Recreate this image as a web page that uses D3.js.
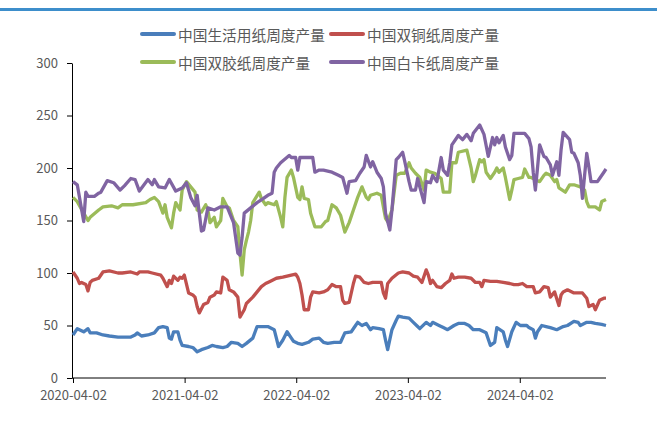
<!DOCTYPE html>
<html>
<head>
<meta charset="utf-8">
<script src="https://cdn.jsdelivr.net/npm/d3@7"></script>
<style>
  body { margin: 0; background: #fff; }
  text { font-family: "Noto Sans CJK SC", "Liberation Sans", sans-serif; fill: #595959; }
</style>
</head>
<body>
<div id="container"></div>
<script>
// weekly series, stored as [weeks since 2020-04-02, value]
const startDate = "2020-04-02";
const lastWeek = 249;

const tissue = [[0,41],[2,47],[3,46],[5,44],[7,47],[8,43],[11,43],[14,41],[17,40],[21,39],[23,39],[27,39],[29,41],[30,43],[32,40],[35,41],[38,43],[40,48],[42,49],[44,48],[45,38],[46,37],[47,44],[49,44],[50,36],[51,31],[54,30],[56,29],[58,25],[60,27],[63,29],[65,31],[67,30],[70,29],[72,30],[74,34],[77,33],[79,30],[81,33],[84,38],[86,49],[89,49],[91,49],[94,46],[96,30],[98,36],[100,44],[102,38],[103,35],[105,33],[107,32],[110,34],[112,37],[115,38],[117,34],[119,33],[122,34],[125,34],[127,43],[130,44],[132,50],[133,53],[135,50],[137,52],[139,46],[140,48],[143,47],[145,46],[146,36],[147,27],[149,46],[151,55],[152,59],[154,58],[157,57],[159,53],[161,49],[162,47],[165,53],[167,50],[168,53],[171,50],[173,48],[175,46],[178,50],[180,52],[183,52],[185,50],[187,46],[190,46],[193,43],[195,31],[197,34],[198,48],[201,44],[202,36],[203,30],[205,44],[207,53],[209,50],[212,50],[213,48],[215,46],[216,38],[217,44],[219,50],[221,49],[223,48],[226,46],[229,49],[231,50],[234,54],[236,53],[237,50],[240,53],[242,53],[244,52],[247,51],[249,50]];

const coated = [[0,101],[2,95],[3,90],[4,91],[6,89],[7,83],[8,91],[9,93],[12,95],[14,101],[17,102],[21,100],[23,100],[27,101],[30,99],[31,101],[35,101],[37,100],[41,98],[42,95],[44,87],[45,93],[46,90],[47,97],[49,93],[50,96],[51,95],[52,98],[54,81],[56,79],[57,77],[58,68],[59,62],[61,70],[63,72],[64,77],[66,79],[67,82],[69,81],[70,96],[72,93],[73,84],[75,82],[77,77],[78,58],[80,65],[81,71],[84,77],[86,82],[88,87],[90,90],[92,92],[95,95],[98,96],[102,98],[104,99],[105,96],[106,90],[107,79],[108,65],[110,65],[111,77],[112,82],[115,81],[117,82],[119,84],[121,89],[123,87],[125,87],[126,74],[127,71],[129,72],[131,90],[132,97],[134,96],[136,91],[138,90],[140,91],[144,91],[145,81],[146,76],[147,90],[149,95],[152,100],[154,101],[157,100],[159,97],[161,96],[163,91],[165,103],[166,98],[167,90],[168,93],[170,87],[172,86],[174,90],[176,93],[177,99],[178,95],[180,96],[183,96],[186,95],[188,91],[190,91],[191,87],[192,93],[195,92],[198,92],[201,91],[204,90],[206,89],[208,89],[210,90],[212,87],[215,87],[216,81],[218,82],[220,87],[222,86],[223,77],[225,82],[227,69],[228,79],[229,82],[231,84],[234,81],[236,81],[238,81],[240,76],[241,68],[243,70],[244,65],[246,74],[248,76],[249,76]];

const offset = [[0,172],[2,168],[5,157],[7,150],[8,153],[12,160],[14,163],[18,164],[21,162],[23,165],[28,165],[34,167],[36,170],[38,172],[40,168],[42,157],[43,165],[44,153],[46,143],[47,157],[48,167],[50,160],[51,179],[53,187],[55,182],[57,177],[58,160],[60,158],[62,165],[63,160],[64,148],[66,153],[67,144],[69,150],[70,171],[72,163],[73,162],[75,150],[77,144],[78,119],[79,98],[80,122],[81,131],[82,139],[83,150],[84,167],[87,177],[88,171],[90,165],[91,167],[94,165],[95,168],[97,153],[98,144],[99,172],[100,191],[102,198],[103,191],[105,172],[106,170],[107,182],[108,171],[110,170],[111,157],[113,144],[116,144],[118,149],[119,150],[121,165],[123,162],[125,155],[127,139],[129,148],[131,160],[133,172],[135,182],[137,172],[138,170],[139,174],[142,176],[144,174],[145,163],[146,152],[147,149],[149,160],[151,193],[153,195],[155,195],[157,205],[158,200],[160,195],[162,191],[164,179],[165,198],[167,196],[169,195],[172,190],[173,177],[176,177],[177,205],[179,205],[180,215],[184,217],[186,200],[187,187],[188,193],[190,208],[191,206],[192,208],[193,196],[195,190],[197,196],[198,200],[199,196],[201,200],[202,191],[204,170],[205,179],[206,189],[208,190],[210,191],[211,199],[213,191],[214,191],[216,189],[218,187],[220,193],[221,195],[223,193],[225,187],[226,189],[227,181],[230,177],[232,184],[234,184],[237,182],[239,179],[240,168],[241,163],[244,163],[246,160],[247,168],[249,170]];

const ivory = [[0,187],[2,184],[5,149],[6,177],[7,173],[10,173],[12,176],[13,177],[16,188],[19,186],[22,179],[24,183],[27,190],[29,189],[31,178],[35,189],[37,184],[38,189],[40,182],[43,181],[45,189],[48,178],[51,181],[53,186],[55,172],[57,164],[58,174],[60,140],[61,141],[63,162],[66,160],[69,163],[72,163],[73,158],[75,148],[77,119],[78,117],[79,134],[80,157],[83,162],[86,167],[89,171],[91,174],[93,176],[94,196],[95,200],[97,205],[101,212],[102,210],[104,210],[105,198],[106,210],[110,210],[112,210],[113,196],[115,198],[117,198],[121,196],[124,193],[126,191],[128,176],[129,187],[132,188],[134,195],[136,201],[137,212],[139,201],[140,206],[142,196],[144,190],[145,182],[146,157],[148,141],[149,160],[151,208],[152,210],[154,215],[155,206],[157,187],[158,179],[160,179],[161,190],[162,182],[164,167],[165,187],[167,186],[168,193],[170,187],[172,210],[173,198],[175,193],[176,205],[177,222],[180,231],[182,227],[184,232],[186,226],[187,233],[190,241],[192,232],[194,211],[196,229],[197,222],[198,229],[199,224],[201,231],[202,220],[204,208],[205,212],[206,233],[211,233],[213,228],[214,220],[215,196],[216,179],[217,200],[218,222],[220,211],[221,210],[223,203],[224,193],[226,206],[227,193],[228,217],[229,234],[232,227],[233,215],[234,214],[236,205],[237,193],[238,171],[239,193],[240,214],[241,201],[242,187],[245,187],[246,190],[248,196],[249,199]];

const seriesNames = ["中国生活用纸周度产量", "中国双铜纸周度产量", "中国双胶纸周度产量", "中国白卡纸周度产量"];
const seriesColors = ["#4a7ebb", "#c0504d", "#9bbb59", "#8064a2"];
const seriesData = [tissue, coated, offset, ivory];

const xTickLabels = ["2020-04-02", "2021-04-02", "2022-04-02", "2023-04-02", "2024-04-02"];
const yTicks = [0, 50, 100, 150, 200, 250, 300];

const W = 657, H = 439;
const margin = { top: 63, right: 51, bottom: 61, left: 72 };

const svg = d3.select("#container").append("svg")
  .attr("width", W)
  .attr("height", H);

// blue band across the top
svg.append("rect")
  .attr("x", 0).attr("y", 8)
  .attr("width", W).attr("height", 3)
  .attr("fill", "#3d8ecb");

const parse = d3.timeParse("%Y-%m-%d");
const t0 = parse(startDate);
const weekDate = w => d3.timeDay.offset(t0, w * 7);

const x = d3.scaleTime()
  .domain([t0, weekDate(lastWeek)])
  .range([margin.left + 1, W - margin.right]);

const y = d3.scaleLinear()
  .domain([0, 300])
  .range([H - margin.bottom, margin.top]);

// y axis
const yAxis = svg.append("g")
  .attr("transform", `translate(${margin.left}, 0)`)
  .call(d3.axisLeft(y).tickValues(yTicks).tickSize(5).tickPadding(9).tickSizeOuter(0));
yAxis.select(".domain").attr("stroke", "#000");
yAxis.selectAll(".tick line").attr("stroke", "#000");
yAxis.selectAll("text").style("font-size", "13px").attr("fill", "#595959");

// x axis
const xAxis = svg.append("g")
  .attr("transform", `translate(0, ${H - margin.bottom})`)
  .call(d3.axisBottom(x)
    .tickValues(xTickLabels.map(parse))
    .tickFormat(d3.timeFormat("%Y-%m-%d"))
    .tickSize(5).tickPadding(8).tickSizeOuter(0));
xAxis.select(".domain").attr("stroke", "#000").attr("d", `M${margin.left},0H${W - margin.right}`);
xAxis.selectAll(".tick line").attr("stroke", "#000");
xAxis.selectAll("text").style("font-size", "13px").attr("fill", "#595959");

// lines
const line = d3.line()
  .x(d => x(weekDate(d[0])))
  .y(d => y(d[1]));

seriesData.forEach((data, i) => {
  svg.append("path")
    .datum(data)
    .attr("fill", "none")
    .attr("stroke", seriesColors[i])
    .attr("stroke-width", 3.3)
    .attr("stroke-linejoin", "round")
    .attr("d", line);
});

// legend, two rows of two
const legend = svg.append("g");
seriesNames.forEach((name, i) => {
  const col = i % 2, row = Math.floor(i / 2);
  const lx = 142 + col * 189;
  const ly = 34 + row * 28;
  legend.append("line")
    .attr("x1", lx).attr("x2", lx + 32)
    .attr("y1", ly).attr("y2", ly)
    .attr("stroke", seriesColors[i])
    .attr("stroke-width", 4)
    .attr("stroke-linecap", "round");
  legend.append("text")
    .attr("x", lx + 36)
    .attr("y", ly)
    .attr("dominant-baseline", "central")
    .style("font-size", "14.7px")
    .text(name);
});
</script>
</body>
</html>
